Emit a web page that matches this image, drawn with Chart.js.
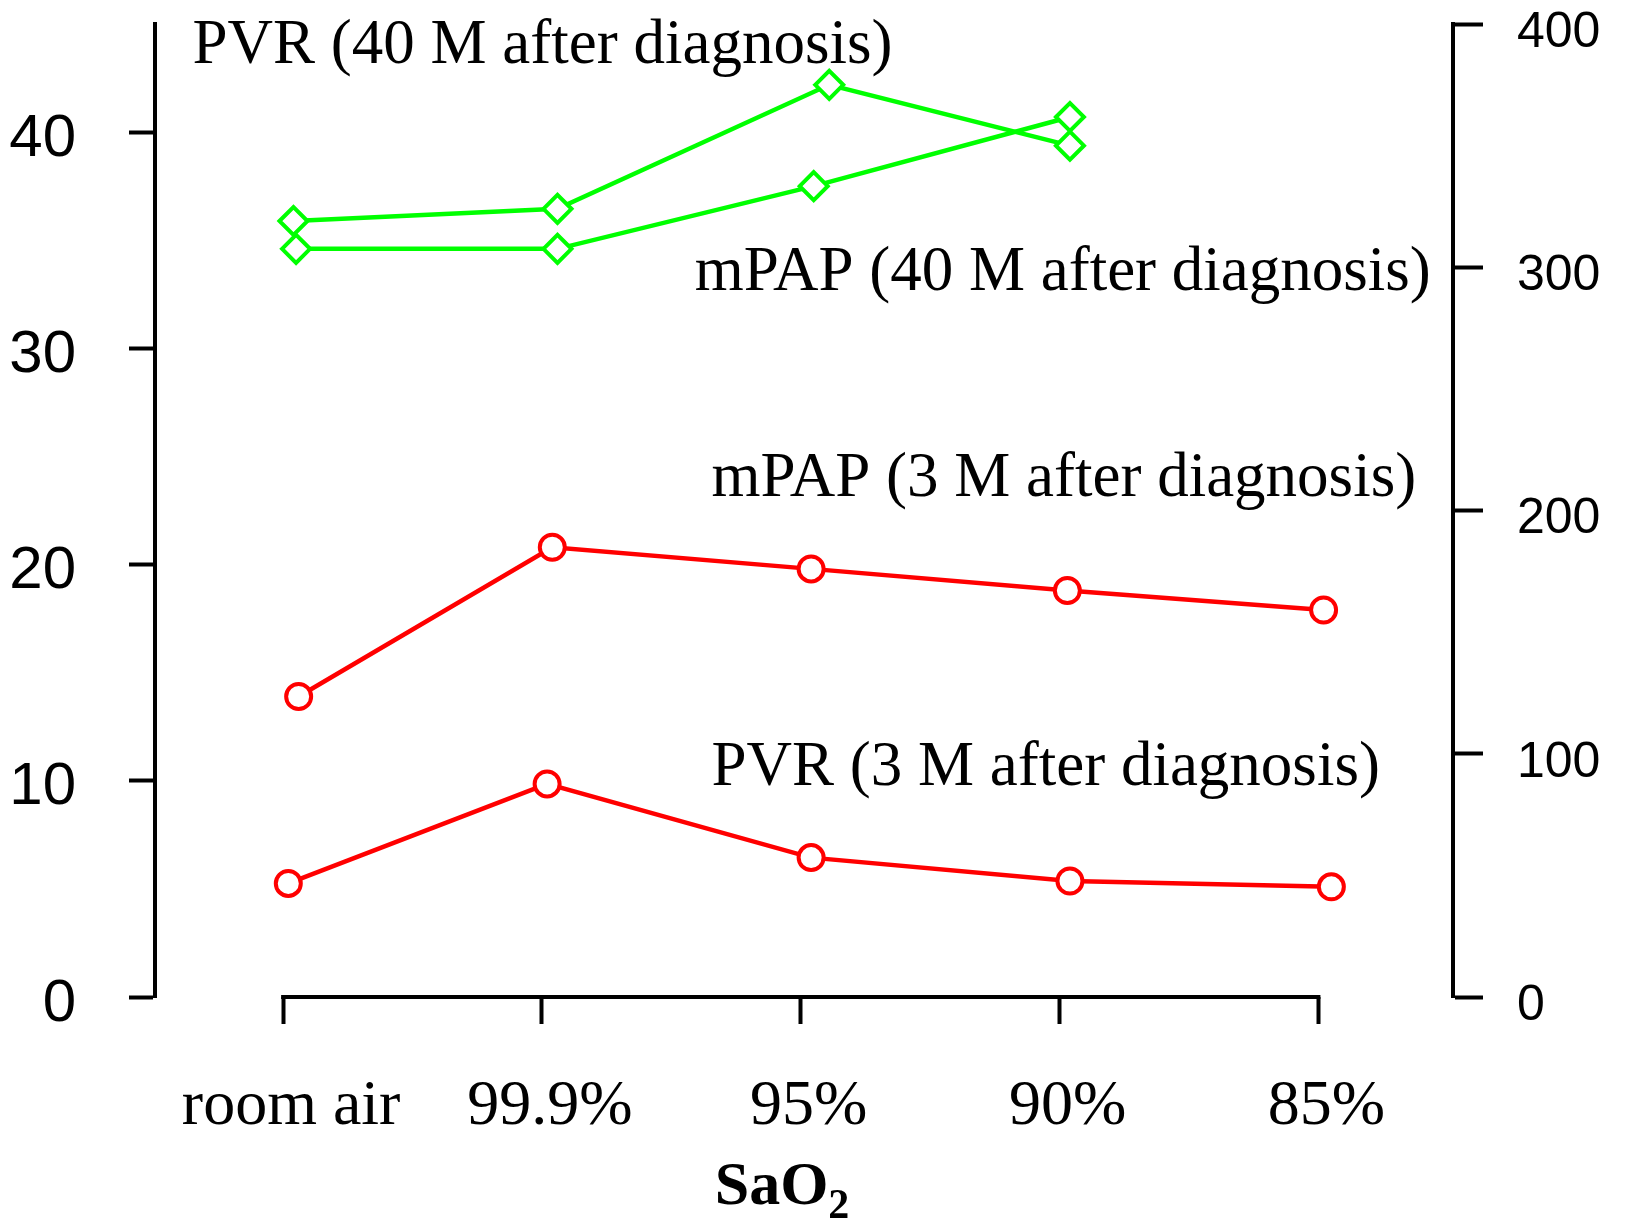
<!DOCTYPE html>
<html>
<head>
<meta charset="utf-8">
<script src="https://cdn.jsdelivr.net/npm/chart.js@4.4.1/dist/chart.umd.min.js"></script>
<style>
  html, body { margin: 0; padding: 0; background: #fff; }
  #wrap { width: 1625px; height: 1222px; position: relative; }
</style>
</head>
<body>
<div id="wrap"><canvas id="sao2"></canvas></div>
<script>
const CATEGORIES = ['room air', '99.9%', '95%', '90%', '85%']
const LEFT_TICKS = [0, 10, 20, 30, 40]
const RIGHT_TICKS = [0, 100, 200, 300, 400]

// x = category index; the original markers sit a little right of their ticks
const pvr40X = [0.04, 1.06, 2.11, 3.04]
const pvr40 = [319, 324, 375, 350]          // right axis
const mpap40X = [0.05, 1.06, 2.05, 3.04]
const mpap40 = [34.6, 34.6, 37.5, 40.7]     // left axis
const mpap3X = [0.06, 1.04, 2.04, 3.03, 4.02]
const mpap3 = [13.9, 20.8, 19.8, 18.8, 17.9] // left axis
const pvr3X = [0.02, 1.02, 2.04, 3.04, 4.05]
const pvr3 = [46.7, 87.6, 57.3, 47.7, 45.3]  // right axis

// labels written next to the curves (x in category units, y in left-axis units)
const NOTES = [
  { text: 'PVR (40 M after diagnosis)', x: -0.35, y: 43.2 },
  { text: 'mPAP (40 M after diagnosis)', x: 1.59, y: 32.7 },
  { text: 'mPAP (3 M after diagnosis)', x: 1.655, y: 23.15 },
  { text: 'PVR (3 M after diagnosis)', x: 1.655, y: 9.8 },
]

const GREEN = '#00ff00'
const RED = '#ff0000'
const SERIF = "'Liberation Serif', 'Times New Roman', serif"
const SANS = "'Liberation Sans', Arial, sans-serif"

function pts(xs, ys) {
  return xs.map((x, i) => ({ x: x, y: ys[i] }))
}

function series(label, xs, ys, axis, color, shape, radius) {
  return {
    label: label,
    data: pts(xs, ys),
    yAxisID: axis,
    borderColor: color,
    borderWidth: 4.5,
    pointStyle: shape,
    pointRadius: radius,
    pointBorderWidth: 4,
    pointBorderColor: color,
    pointBackgroundColor: '#fff',
    tension: 0,
  }
}

// no extra room for half-labels at the axis ends
function noPad(s) {
  s.paddingTop = 0
  s.paddingBottom = 0
  s.paddingLeft = 0
  s.paddingRight = 0
}

const decor = {
  id: 'decor',
  afterDraw(chart) {
    const { ctx, chartArea } = chart
    const x = chart.scales.x
    const y = chart.scales.y
    ctx.save()
    // x axis line only runs from the first to the last category tick
    ctx.strokeStyle = '#000'
    ctx.lineWidth = 4
    ctx.beginPath()
    ctx.moveTo(x.getPixelForValue(0) - 2, chartArea.bottom)
    ctx.lineTo(x.getPixelForValue(CATEGORIES.length - 1) + 2, chartArea.bottom)
    ctx.stroke()

    ctx.fillStyle = '#000'
    ctx.textAlign = 'left'
    ctx.textBaseline = 'alphabetic'
    ctx.font = '63px ' + SERIF
    NOTES.forEach(n => {
      ctx.fillText(n.text, x.getPixelForValue(n.x), y.getPixelForValue(n.y))
    })

    // axis title SaO2 with subscript
    ctx.font = 'bold 62px ' + SERIF
    const w1 = ctx.measureText('SaO').width
    ctx.font = 'bold 42px ' + SERIF
    const w2 = ctx.measureText('2').width
    const sx = (chartArea.left + chartArea.right) / 2 - 22 - (w1 + w2) / 2
    ctx.font = 'bold 62px ' + SERIF
    ctx.fillText('SaO', sx, chart.height - 18)
    ctx.font = 'bold 42px ' + SERIF
    ctx.fillText('2', sx + w1, chart.height - 4)
    ctx.restore()
  }
}

const chart = new Chart(document.getElementById('sao2'), {
  type: 'line',
  data: {
    datasets: [
      series('PVR (40 M after diagnosis)', pvr40X, pvr40, 'y2', GREEN, 'rectRot', 14),
      series('mPAP (40 M after diagnosis)', mpap40X, mpap40, 'y', GREEN, 'rectRot', 14),
      series('mPAP (3 M after diagnosis)', mpap3X, mpap3, 'y', RED, 'circle', 12.5),
      series('PVR (3 M after diagnosis)', pvr3X, pvr3, 'y2', RED, 'circle', 12.5),
    ],
  },
  options: {
    responsive: true,
    maintainAspectRatio: false,
    animation: false,
    layout: { padding: { top: 24 } },
    plugins: {
      legend: { display: false },
      tooltip: { enabled: false },
    },
    scales: {
      x: {
        type: 'linear',
        min: -0.495,
        max: 4.52,
        afterBuildTicks: s => { s.ticks = CATEGORIES.map((c, i) => ({ value: i })) },
        afterFit: s => { s.height = 225; noPad(s) },
        border: { display: false },
        grid: { drawOnChartArea: false, tickLength: 27, tickWidth: 4, tickColor: '#000' },
        ticks: {
          callback: v => CATEGORIES[v],
          font: { family: SERIF, size: 64 },
          color: '#000',
          padding: 45,
          labelOffset: 8,
          maxRotation: 0,
          autoSkip: false,
        },
      },
      y: {
        position: 'left',
        min: 0,
        max: 45,
        afterBuildTicks: s => { s.ticks = LEFT_TICKS.map(v => ({ value: v })) },
        afterFit: s => { s.width = 155; noPad(s) },
        border: { display: true, color: '#000', width: 4 },
        grid: { drawOnChartArea: false, tickLength: 26, tickWidth: 4, tickColor: '#000' },
        ticks: {
          font: { family: SANS, size: 60 },
          color: '#000',
          padding: 53,
          labelOffset: 7,
        },
      },
      y2: {
        position: 'right',
        min: 0,
        max: 400,
        afterBuildTicks: s => { s.ticks = RIGHT_TICKS.map(v => ({ value: v })) },
        afterFit: s => { s.width = 172; noPad(s) },
        border: { display: true, color: '#000', width: 4 },
        grid: { drawOnChartArea: false, tickLength: 30, tickWidth: 4, tickColor: '#000' },
        ticks: {
          font: { family: SANS, size: 50 },
          color: '#000',
          padding: 34,
          labelOffset: 9,
        },
      },
    },
  },
  plugins: [decor],
})
</script>
</body>
</html>
